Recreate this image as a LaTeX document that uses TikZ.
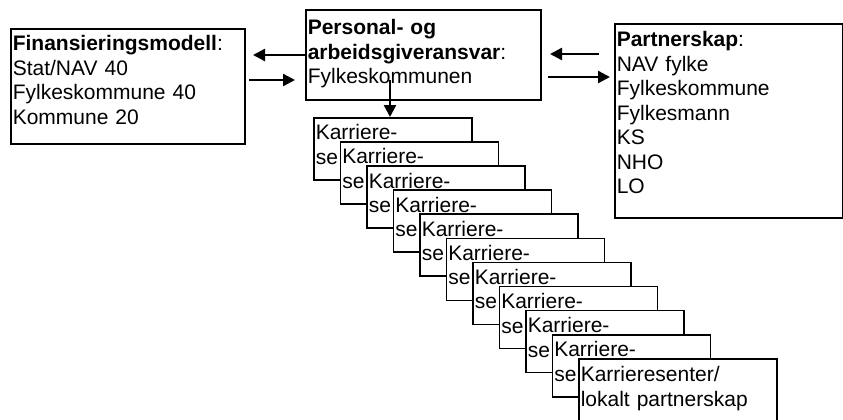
\documentclass[tikz,border=0pt]{standalone}
\usepackage{fontspec}
\setmainfont{Liberation Sans}
\usetikzlibrary{arrows.meta}

\tikzset{
  boks/.style={draw, line width=1.6bp, fill=white, anchor=north west,
    align=left, inner xsep=2bp, inner ysep=0bp,
    font=\fontsize{21bp}{24.5bp}\selectfont},
  pil/.style={->, line width=2.4bp},
}

\begin{document}
\begin{tikzpicture}[x=1bp, y=-1bp, >={Triangle[length=12bp, width=12bp]}]

    % =================================================================
    % 1. RAMME (same storleik som biletet)
    % =================================================================
    \clip (0,0) rectangle (843,419);

    % =================================================================
    % 2. DEI TRE BOKSANE OVERST
    % =================================================================
    % Finansiering til venstre
    \node[boks, text width=230bp, text height=22bp, text depth=93bp] (fin) at (10,28)
        {\textbf{Finansieringsmodell}:\\Stat/NAV 40\\Fylkeskommune 40\\Kommune 20};

    % Personal- og arbeidsgivaransvar i midten
    \node[boks, text width=231bp, text height=25bp, text depth=65bp] (pers) at (305,9)
        {\textbf{Personal- og}\\\textbf{arbeidsgiveransvar}:\\Fylkeskommunen};

    % Partnarskap til hogre
    \node[boks, text width=224bp, text height=23bp, text depth=171bp] (part) at (614,23)
        {\textbf{Partnerskap}:\\NAV fylke\\Fylkeskommune\\Fylkesmann\\KS\\NHO\\LO};

    % =================================================================
    % 3. PILER MELLOM BOKSANE
    % =================================================================
    \coordinate (finInn) at (253,55);
    \coordinate (finUt) at (249,80);
    \coordinate (persInn) at (295,80);
    \draw[pil] (finInn -| pers.west) -- (finInn);
    \draw[pil] (finUt) -- (persInn);

    \coordinate (persUt) at (550,54);
    \coordinate (partUt) at (599,54);
    \coordinate (partFra) at (548,77);
    \coordinate (partInn) at (610,77);
    \draw[pil] (partUt) -- (persUt);
    \draw[pil] (partFra) -- (partInn);

    % =================================================================
    % 4. STABEL MED KARRIERESENTER
    % =================================================================
    \foreach \i in {0,...,9}
        \node[boks, text width=154bp, text height=22bp, text depth=40bp] (k\i)
            at ({313+26.5*\i},{117+24.1*\i}) {Karriere-\\se};

    \node[boks, text width=194bp, text height=23bp, text depth=42bp] (k10) at (578,358)
        {Karrieresenter/\\lokalt partnerskap};

    % Pil ned til fyrste karrieresenter
    \coordinate (ned) at (390,80);
    \draw[pil] (ned) -- (ned |- k0.north);

\end{tikzpicture}
\end{document}
